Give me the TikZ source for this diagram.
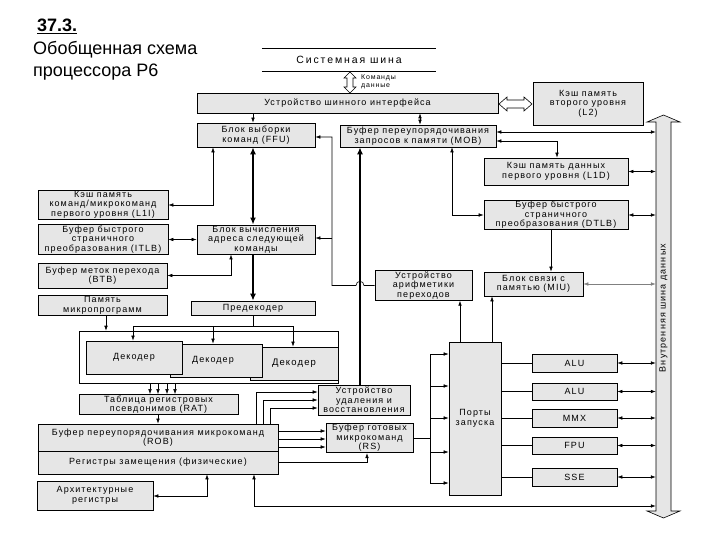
\documentclass[tikz,border=0pt]{standalone}
\usepackage{fontspec}
\setmainfont{Liberation Sans}
\newfontfamily\bxfont[LetterSpace=12]{Liberation Sans}
\newfontfamily\sysfont[LetterSpace=18]{Liberation Sans}
\usetikzlibrary{arrows.meta}
\definecolor{boxgray}{RGB}{230,230,230}
\begin{document}
\begin{tikzpicture}[x=1pt,y=-1pt,
  box/.style={draw, fill=boxgray, line width=0.7pt, inner sep=1pt, align=center,
              font=\bxfont\fontsize{9}{9.6}\selectfont},
  plainbox/.style={draw, fill=white, line width=0.6pt, inner sep=0pt},
  ln/.style={line width=0.6pt},
  arr/.style={ln, -{Latex[length=5pt,width=3.6pt]}},
  darr/.style={ln, {Latex[length=5pt,width=3.6pt]}-{Latex[length=5pt,width=3.6pt]}},
  thk/.style={line width=2pt},
  tharr/.style={thk, -{Latex[length=7pt,width=6pt]}},
  thdarr/.style={thk, {Latex[length=7pt,width=6pt]}-{Latex[length=7pt,width=6pt]}},
  txt/.style={inner sep=0pt, align=center, font=\bxfont\fontsize{9}{9.6}\selectfont}
]
\useasboundingbox (0,0) rectangle (720,540);
\fill[white] (0,0) rectangle (720,540);

% ---------- title ----------
\node[anchor=base west, inner sep=0pt, font=\fontsize{18}{20}\selectfont\bfseries] (num) at (37,32) {\underline{37.3.}};
\node[anchor=base west, inner sep=0pt, font=\fontsize{18}{20}\selectfont] (t1) at (33,55) {Обобщенная схема};
\node[anchor=base west, inner sep=0pt, font=\fontsize{18}{20}\selectfont] (t2) at (33,77) {процессора P6};

% ---------- system bus ----------
\node[minimum width=174pt, minimum height=22pt, inner sep=0pt, font=\sysfont\fontsize{10.5}{11}\selectfont] (sys) at (349,60) {Системная шина};
\draw[line width=0.7pt] (sys.north west) -- (sys.north east) (sys.south west) -- (sys.south east);
\draw[line width=0.6pt, fill=white] (350,72) -- (356,78) -- (353,78) -- (353,87) -- (356,87) -- (350,93)
   -- (344,87) -- (347,87) -- (347,78) -- (344,78) -- cycle;
\node[anchor=west, align=left, inner sep=0pt, font=\bxfont\fontsize{7}{7.5}\selectfont] (cmdlbl) at (361,82) {Команды\\данные};

% ---------- boxes ----------
\node[box, minimum width=301pt, minimum height=20pt] (biu) at (347.5,103) {Устройство шинного интерфейса};
\node[box, minimum width=110pt, minimum height=43pt] (l2) at (588,103.5) {Кэш память\\второго уровня\\(L2)};
\draw[line width=0.6pt, fill=white] (499,104) -- (507,97) -- (507,100) -- (524,100) -- (524,97) -- (532,104)
   -- (524,111) -- (524,108) -- (507,108) -- (507,111) -- cycle;

\node[box, minimum width=118pt, minimum height=24pt] (ffu) at (256,135) {Блок выборки\\команд (FFU)};
\node[box, minimum width=156pt, minimum height=22pt] (mob) at (418,136) {Буфер переупорядочивания\\запросов к памяти (MOB)};
\node[box, minimum width=144pt, minimum height=27pt] (l1d) at (556,171.5) {Кэш память данных\\первого уровня  (L1D)};
\node[box, minimum width=144pt, minimum height=28pt] (dtlb) at (556,215) {Буфер быстрого\\страничного\\преобразования (DTLB)};
\node[box, minimum width=130pt, minimum height=29pt] (l1i) at (103,204.5) {Кэш память\\команд/микрокоманд\\первого уровня  (L1I)};
\node[box, minimum width=118pt, minimum height=27pt] (nab) at (256,239.5) {Блок вычисления\\адреса следующей\\команды};
\node[box, minimum width=130pt, minimum height=27pt] (itlb) at (103,239.5) {Буфер быстрого\\страничного\\преобразования (ITLB)};
\node[box, minimum width=129pt, minimum height=25pt] (btb) at (102.5,275.5) {Буфер меток перехода\\(BTB)};
\node[box, minimum width=129pt, minimum height=19pt] (micro) at (102.5,305.5) {Память\\микропрограмм};
\node[box, minimum width=97pt, minimum height=27pt] (bau) at (423.5,285.5) {Устройство\\арифметики\\переходов};
\node[box, minimum width=99pt, minimum height=24pt] (miu) at (533.5,284) {Блок связи с\\памятью (MIU)};
\node[box, minimum width=124pt, minimum height=14pt] (pre) at (253,308) {Предекодер};

% decoders
\node[plainbox, minimum width=259pt, minimum height=52pt] (cont) at (208.5,357) {};
\node[box, minimum width=88pt, minimum height=33pt, font=\bxfont\fontsize{9.5}{10}\selectfont] (dec3) at (294,363.5) {Декодер};
\node[box, minimum width=92pt, minimum height=33pt] (dec2) at (216,360.5) {};
\node[txt] (dec2t) at (213,360) {Декодер};
\node[box, minimum width=96pt, minimum height=33pt] (dec1) at (134,357.5) {Декодер};

\node[box, minimum width=159pt, minimum height=19pt] (rat) at (158.5,404.5) {Таблица регистровых\\псевдонимов (RAT)};
\node[box, minimum width=92pt, minimum height=30pt] (retire) at (364,400) {Устройство\\удаления и\\восстановления};
\node[box, minimum width=87pt, minimum height=28pt] (rs) at (369.5,438) {Буфер готовых\\микрокоманд\\(RS)};
\node[box, minimum width=52pt, minimum height=153pt] (ports) at (475,418.5) {Порты\\запуска};

\node[box, minimum width=85pt, minimum height=18pt] (alu1) at (574.5,363) {ALU};
\node[box, minimum width=85pt, minimum height=17pt] (alu2) at (574.5,391.5) {ALU};
\node[box, minimum width=85pt, minimum height=18pt] (mmx) at (574.5,418) {MMX};
\node[box, minimum width=85pt, minimum height=17pt] (fpu) at (574.5,445.5) {FPU};
\node[box, minimum width=85pt, minimum height=18pt] (sse) at (574.5,477) {SSE};

\node[box, minimum width=240pt, minimum height=50pt] (rob) at (158,449) {};
\draw[line width=0.6pt] (rob.west |- 0,451) -- (rob.east |- 0,451);
\node[txt] (robt) at (158,437.5) {Буфер  переупорядочивания микрокоманд\\(ROB)};
\node[txt] (regt) at (158,462.5) {Регистры замещения (физические)};
\node[box, minimum width=116pt, minimum height=29pt] (arch) at (95,495.5) {Архитектурные\\регистры};

% ---------- internal data bus ----------
\draw[line width=0.6pt, fill=boxgray] (663.5,115) -- (680,122) -- (671,122) -- (671,511) -- (680,511) -- (663.5,518)
   -- (647,511) -- (656,511) -- (656,122) -- (647,122) -- cycle;
\node[minimum width=15pt, minimum height=389pt, inner sep=0pt] (bus) at (663.5,316.5) {};
\node[rotate=90, inner sep=0pt, font=\bxfont\fontsize{9}{9}\selectfont] (buslbl) at (663.5,308) {Внутренняя шина данных};

% ---------- connectors ----------
\draw[arr] (biu.south -| 253,0) -- (ffu.north -| 253,0);
\draw[darr] (biu.south -| 420,0) -- (mob.north -| 420,0);
\draw[thdarr] (ffu.south -| 253,0) -- (nab.north -| 253,0);
\draw[tharr] (nab.south -| 253,0) -- (pre.north -| 253,0);
\draw[darr] (l1i.east |- 0,205) -| (ffu.south -| 213,0);
\draw[darr] (itlb.east) -- (nab.west);
\draw[darr] (btb.east) -| (nab.south -| 231,0);
\draw[arr] (micro.south -| 106,0) -- (cont.north -| 106,0);

\coordinate (split) at (253,326);
\draw[ln] (pre.south -| 253,0) -- (split);
\draw[ln] (split -| 133,0) -- (split -| 293,0);
\draw[arr] (split -| 133,0) -- (dec1.north -| 133,0);
\draw[arr] (split -| 213,0) -- (dec2.north -| 213,0);
\draw[arr] (split -| 293,0) -- (dec3.north -| 293,0);
\foreach \x in {150,158,167,175} \draw[arr] (cont.south -| \x,0) -- (rat.north -| \x,0);
\draw[arr] (rat.south -| 158,0) -- (rob.north -| 158,0);
\draw[darr] (rob.south -| 207,0) |- (arch.east |- 0,496);
\draw[darr] (rob.south -| 254,0) |- (bus.west |- 0,506);

\foreach \x/\y in {256/392,263/400,270/408} \draw[arr] (rob.north -| \x,0) |- (retire.west |- 0,\y);
\foreach \y in {431,439,447} \draw[arr] (rob.east |- 0,\y) -- (rs.west |- 0,\y);
\draw[arr] (rob.east |- 0,462) -| (rs.south -| 367,0);

\draw[tharr] (retire.north -| 360,0) -- (mob.south -| 360,0);

\draw[arr] (bau.west) -- (364,285.5) .. controls (364,280) and (356,280) .. (356,285.5) -- (332,285.5) -- (332,137) -- (ffu.east |- 0,137);
\draw[arr] (332,238) -- (nab.east |- 0,238);

\draw[darr] (mob.east |- 0,132) -- (bus.west |- 0,132);
\draw[darr] (mob.east |- 0,141) -| (l1d.north -| 557,0);
\draw[darr] (mob.south -| 452,0) |- (dtlb.west);
\draw[arr] (dtlb.south -| 551,0) -- (miu.north -| 551,0);
\draw[darr] (l1d.east) -- (l1d.east -| bus.west);
\draw[darr] (dtlb.east) -- (dtlb.east -| bus.west);
\draw[darr, draw=gray] (miu.east) -- (miu.east -| bus.west);

\draw[arr] (ports.north -| 460,0) -- (bau.south -| 460,0);
\draw[arr] (ports.north -| 492,0) -- (miu.south -| 492,0);

\draw[ln] (rs.east |- 0,438) -- (430,438);
\draw[ln] (430,354) -- (430,483);
\foreach \y in {354,386,418,452,483} \draw[arr] (430,\y) -- (ports.west |- 0,\y);

\foreach \u in {alu1,alu2,mmx,fpu,sse} {
  \draw[ln] (ports.east |- \u.west) -- (\u.west);
  \draw[darr] (\u.east) -- (\u.east -| bus.west);
}
\end{tikzpicture}
\end{document}
